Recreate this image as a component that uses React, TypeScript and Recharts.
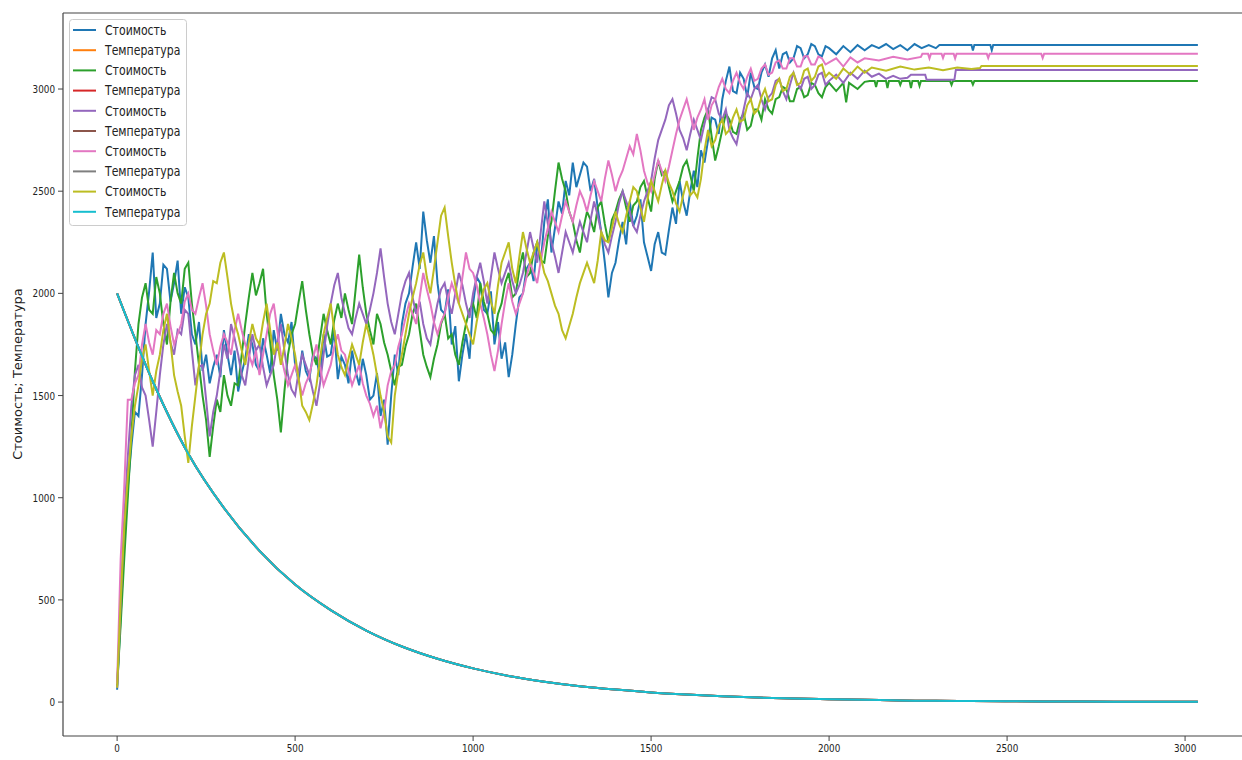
import React from 'react';
import { LineChart, Line, XAxis, YAxis, ReferenceLine } from 'recharts';

// cost samples are taken every STEP iterations up to 2000, then the tail
// (where the search has mostly settled) is listed as [iteration, cost] pairs
const STEP = 10;

const costBlue = [
  60, 420, 780, 1050, 1250, 1420, 1400, 1600, 1850, 2010, 2200, 1880, 1950, 2140, 2120, 1960, 2050, 2160, 1900, 2030,
  1980, 1800, 1750, 1860, 1620, 1700, 1560, 1640, 1700, 1590, 1820, 1700, 1600, 1720, 1520, 1610, 1680, 1800, 1750, 1650,
  1620, 1780, 1700, 1610, 1820, 1720, 1900, 1800, 1760, 1860, 1650, 1570, 1720, 1620, 1580, 1700, 1680, 1590, 1800, 1690,
  1700, 1820, 1580, 1690, 1650, 1560, 1720, 1620, 1550, 1680, 1600, 1480, 1500, 1610, 1400, 1480, 1260, 1500, 1700, 1600,
  1850, 1950, 2000, 2130, 2250, 2120, 2400, 2260, 2150, 2280, 2050, 1920, 1900, 2020, 1750, 1840, 1570, 1700, 1800, 1680,
  1950, 2080, 2050, 1920, 1900, 2010, 1750, 1860, 1680, 1760, 1590, 1700, 1850, 1980, 2000, 2120, 2150, 2060, 2250, 2150,
  2350, 2460, 2200, 2320, 2450, 2390, 2550, 2480, 2640, 2520, 2580, 2640, 2620, 2500, 2560, 2420, 2300, 2150, 1980, 2100,
  2150, 2260, 2350, 2240, 2450, 2330, 2380, 2460, 2250, 2180, 2110, 2240, 2300, 2200, 2190, 2310, 2420, 2340, 2550, 2450,
  2380, 2500, 2600, 2520, 2700, 2640, 2750, 2860, 2850, 2780, 2950, 3040, 3110, 2990, 2980, 3080, 3050, 2960, 3080, 3010,
  3000, 3080, 3120, 3060, 3150, 3190, 3100, 3170, 3180, 3130, 3150, 3210, 3200, 3150, 3170, 3220, 3210, 3170, 3160, 3210,
  3200,
];
const tailBlue: [number, number][] = [
  [2020, 3170], [2040, 3210], [2060, 3180], [2080, 3215], [2100, 3190],
  [2120, 3215], [2140, 3200], [2160, 3220], [2180, 3195], [2200, 3215],
  [2220, 3190], [2240, 3220], [2260, 3200], [2280, 3215], [2300, 3200],
  [2310, 3215], [2400, 3215], [2404, 3188], [2408, 3215], [2453, 3215],
  [2457, 3190], [2461, 3215], [3036, 3215],
];

const costGreen = [
  80, 380, 700, 1000, 1300, 1620, 1850, 1980, 2050, 1920, 1900, 2080, 2000, 1850, 1750, 1960, 2100, 2000, 1950, 2120,
  2150, 1950, 1800, 1650, 1500, 1380, 1200, 1350, 1480, 1420, 1600, 1500, 1450, 1560, 1550, 1700, 1850, 1980, 2100, 1990,
  2050, 2120, 1900, 1760, 1600, 1480, 1320, 1520, 1700, 1800, 1850, 1960, 2060, 1920, 1800, 1700, 1650, 1780, 1900, 1820,
  1750, 1870, 1950, 1880, 2000, 1920, 1850, 2020, 2190, 2030, 1900, 1820, 1750, 1900, 1850, 1760, 1700, 1620, 1550, 1640,
  1650, 1740, 1800, 1900, 1950, 1820, 1700, 1640, 1590, 1680, 1750, 1850, 1900, 1780, 1800, 1700, 1650, 1760, 1850, 1920,
  1950, 1880, 2050, 1960, 1900, 1820, 1800, 1900, 1950, 2050, 2100, 1980, 2000, 2120, 2200, 2080, 2100, 2200, 2250, 2160,
  2150, 2280, 2350, 2500, 2640, 2560, 2500, 2400, 2350, 2260, 2200, 2320, 2400, 2360, 2300, 2420, 2450, 2340, 2250, 2360,
  2400, 2460, 2500, 2420, 2350, 2430, 2450, 2520, 2550, 2470, 2400, 2560, 2650, 2580, 2600, 2520, 2450, 2500, 2550, 2620,
  2650, 2580, 2500, 2660, 2800, 2860, 2900, 2770, 2650, 2720, 2800, 2880, 2850, 2790, 2780, 2850, 2880, 2800, 2820, 2900,
  2900, 2850, 2950, 2900, 2880, 2950, 2960, 3010, 3000, 2940, 2940, 3000, 3010, 2960, 2970, 3030, 3020, 2980, 2960, 3010,
  3030,
];
const tailGreen: [number, number][] = [
  [2020, 2990], [2040, 3030], [2048, 2935], [2056, 3030], [2080, 3000],
  [2100, 3035], [2114, 3039], [2128, 3039], [2132, 3010], [2136, 3039],
  [2160, 3039], [2164, 3005], [2168, 3039], [2196, 3039], [2200, 3020],
  [2204, 3039], [2226, 3039], [2230, 3005], [2234, 3039], [2250, 3039],
  [2254, 3015], [2258, 3039], [2340, 3039], [2344, 3020], [2348, 3039],
  [2400, 3039], [2404, 3022], [2408, 3039], [3036, 3039],
];

const costPurple = [
  70, 480, 900, 1200, 1450, 1600, 1650, 1540, 1500, 1380, 1250, 1420, 1600, 1750, 1850, 1760, 1700, 1820, 1800, 1920,
  1900, 1720, 1550, 1640, 1650, 1480, 1300, 1420, 1500, 1620, 1750, 1680, 1850, 1780, 1700, 1600, 1550, 1680, 1800, 1720,
  1750, 1640, 1550, 1600, 1650, 1760, 1850, 1720, 1600, 1530, 1500, 1620, 1700, 1650, 1600, 1520, 1450, 1560, 1700, 1840,
  1950, 2040, 2100, 1980, 1900, 1830, 1800, 1880, 1950, 1900, 1850, 1920, 2000, 2100, 2220, 2080, 1950, 1860, 1800, 1900,
  2000, 2060, 2100, 1980, 1900, 1960, 1850, 1780, 1750, 1860, 1950, 2020, 2050, 1960, 1900, 2000, 2100, 2040, 1950, 1880,
  2000, 2080, 2150, 2060, 1950, 2080, 2200, 2120, 2050, 2100, 2150, 2060, 2000, 2040, 2100, 2200, 2300, 2220, 2150, 2300,
  2450, 2340, 2250, 2180, 2100, 2200, 2300, 2250, 2200, 2280, 2350, 2300, 2250, 2360, 2450, 2380, 2300, 2240, 2200, 2280,
  2350, 2440, 2500, 2450, 2400, 2330, 2300, 2380, 2450, 2500, 2550, 2660, 2750, 2800, 2850, 2920, 2950, 2880, 2800, 2760,
  2700, 2780, 2850, 2800, 2750, 2830, 2900, 2960, 2950, 2880, 2850, 2900, 2800, 2760, 2730, 2820, 2900, 2980, 2950, 3000,
  3020, 2950, 2900, 2960, 2980, 3040, 3050, 2990, 2950, 3020, 3080, 3030, 3000, 3050, 3060, 3000, 3020, 3070, 3080, 3020,
  3040,
];
const tailPurple: [number, number][] = [
  [2020, 3070], [2040, 3030], [2060, 3080], [2080, 3050], [2100, 3090],
  [2120, 3060], [2140, 3075], [2160, 3050], [2180, 3065], [2200, 3050],
  [2220, 3055], [2230, 3070], [2270, 3070], [2274, 3045], [2352, 3045],
  [2356, 3093], [3036, 3093],
];

const costPink = [
  90, 700, 1050, 1480, 1480, 1560, 1600, 1750, 1850, 1760, 1700, 1820, 1800, 1900, 1950, 1840, 1750, 1800, 1850, 1960,
  2000, 1920, 1900, 1980, 2050, 1940, 1800, 1720, 1650, 1740, 1800, 1760, 1700, 1820, 1900, 1820, 1750, 1700, 1650, 1720,
  1600, 1700, 1800, 1900, 1950, 1820, 1700, 1620, 1550, 1600, 1650, 1580, 1500, 1560, 1600, 1680, 1750, 1640, 1550, 1600,
  1650, 1740, 1800, 1720, 1700, 1620, 1550, 1600, 1650, 1560, 1500, 1460, 1400, 1450, 1340, 1420, 1550, 1620, 1650, 1740,
  1800, 1880, 1950, 1900, 1850, 1980, 2100, 2020, 1950, 1860, 1800, 1860, 1900, 1980, 2050, 2000, 1950, 2080, 2200, 2120,
  2100, 2040, 1950, 1880, 1800, 1700, 1620, 1720, 1850, 1960, 2050, 1960, 1900, 1950, 2000, 2080, 2150, 2100, 2050, 2160,
  2250, 2320, 2400, 2350, 2300, 2380, 2450, 2400, 2350, 2430, 2500, 2460, 2400, 2480, 2550, 2500, 2450, 2560, 2650, 2580,
  2500, 2560, 2600, 2660, 2720, 2680, 2780, 2700, 2600, 2540, 2500, 2580, 2650, 2600, 2550, 2620, 2700, 2780, 2850, 2900,
  2950, 2880, 2800, 2860, 2900, 2950, 2850, 2920, 2950, 3010, 3050, 3000, 2980, 3040, 3080, 3030, 3000, 3060, 3100, 3040,
  3050, 3100, 3120, 3070, 3080, 3130, 3140, 3100, 3100, 3150, 3150, 3110, 3110, 3160, 3160, 3120, 3120, 3160, 3150, 3120,
  3130,
];
const tailPink: [number, number][] = [
  [2020, 3150], [2040, 3110], [2060, 3155], [2080, 3130], [2100, 3150],
  [2140, 3140], [2180, 3158], [2220, 3145], [2258, 3157], [2262, 3172],
  [2278, 3172], [2282, 3150], [2286, 3172], [2316, 3172], [2320, 3152],
  [2324, 3172], [2350, 3172], [2354, 3150], [2358, 3172], [2443, 3172],
  [2447, 3152], [2451, 3172], [2596, 3172], [2600, 3152], [2604, 3172],
  [3036, 3172],
];

const costOlive = [
  70, 500, 850, 1100, 1300, 1450, 1550, 1680, 1750, 1620, 1500, 1620, 1700, 1820, 1900, 1760, 1600, 1520, 1450, 1300,
  1170, 1350, 1500, 1650, 1800, 1900, 1950, 2060, 2050, 2150, 2200, 2080, 1950, 1860, 1800, 1720, 1650, 1760, 1850, 1780,
  1750, 1860, 1950, 1820, 1700, 1760, 1650, 1740, 1850, 1780, 1700, 1580, 1450, 1420, 1380, 1460, 1550, 1680, 1800, 1880,
  1950, 1820, 1700, 1640, 1600, 1680, 1750, 1700, 1650, 1760, 1850, 1780, 1700, 1600, 1500, 1420, 1300, 1270, 1500, 1620,
  1700, 1800, 1900, 1980, 2050, 2140, 2200, 2080, 2000, 2120, 2250, 2380, 2420, 2280, 2150, 2040, 1950, 1900, 1850, 1800,
  1750, 1860, 1950, 2020, 2050, 1960, 1900, 2040, 2150, 2200, 2250, 2120, 2050, 2180, 2300, 2220, 2150, 2200, 2250, 2180,
  2100, 2060, 2000, 1940, 1900, 1820, 1780, 1840, 1900, 1980, 2050, 2100, 2150, 2100, 2050, 2160, 2300, 2260, 2250, 2320,
  2400, 2340, 2300, 2380, 2450, 2520, 2500, 2420, 2350, 2460, 2550, 2500, 2450, 2530, 2600, 2540, 2500, 2440, 2400, 2480,
  2550, 2480, 2500, 2470, 2560, 2700, 2800, 2720, 2750, 2820, 2850, 2780, 2800, 2860, 2900, 2840, 2850, 2920, 2950, 2880,
  2900, 2960, 3000, 2940, 2950, 3020, 3050, 2990, 3000, 3060, 3080, 3020, 3030, 3090, 3100, 3040, 3060, 3110, 3120, 3060,
  3080,
];
const tailOlive: [number, number][] = [
  [2020, 3050], [2040, 3100], [2060, 3070], [2080, 3110], [2100, 3080],
  [2120, 3105], [2160, 3090], [2200, 3110], [2240, 3095], [2280, 3105],
  [2320, 3092], [2360, 3105], [2400, 3098], [2424, 3103], [2428, 3113],
  [3036, 3113],
];

// temperature schedule, same for every run
const tempIter = [0, 100, 200, 300, 400, 500, 600, 700, 800, 900, 1000, 1100, 1200, 1300, 1400, 1500, 1600, 1700, 1800, 1900, 2000, 2100, 2200, 2300, 2400, 2500, 2600, 2800, 3036];
const tempValue = [2000, 1570, 1215, 950, 740, 575, 450, 350, 272, 212, 165, 128, 100, 78, 61, 47, 37, 29, 22, 17, 14, 11, 8, 6, 5, 4, 3, 2, 1];

const xTicks = [0, 500, 1000, 1500, 2000, 2500, 3000];
const yTicks = [0, 500, 1000, 1500, 2000, 2500, 3000];

const COST = 'Стоимость';
const TEMP = 'Температура';

const toRows = (vals: number[], tail: [number, number][]) =>
  vals.map((y, i) => ({ x: i * STEP, y })).concat(tail.map(([x, y]) => ({ x, y })));

const tempRows = tempIter.map((x, i) => ({ x, y: tempValue[i] }));

const series = [
  { name: COST, color: '#1f77b4', data: toRows(costBlue, tailBlue), smooth: false },
  { name: TEMP, color: '#ff7f0e', data: tempRows, smooth: true },
  { name: COST, color: '#2ca02c', data: toRows(costGreen, tailGreen), smooth: false },
  { name: TEMP, color: '#d62728', data: tempRows, smooth: true },
  { name: COST, color: '#9467bd', data: toRows(costPurple, tailPurple), smooth: false },
  { name: TEMP, color: '#8c564b', data: tempRows, smooth: true },
  { name: COST, color: '#e377c2', data: toRows(costPink, tailPink), smooth: false },
  { name: TEMP, color: '#7f7f7f', data: tempRows, smooth: true },
  { name: COST, color: '#bcbd22', data: toRows(costOlive, tailOlive), smooth: false },
  { name: TEMP, color: '#17becf', data: tempRows, smooth: true },
];

const FONT = 'DejaVu Sans';
const AXIS = '#444';

const YTick = (props: any) => {
  const { x, y, payload } = props;
  return (
    <text x={0} y={0} transform={`translate(${x},${y}) scale(0.8,1)`} textAnchor="end" dy="0.36em"
      fontSize={11} fontFamily={FONT} fill="#222">
      {payload.value}
    </text>
  );
};

const XTick = (props: any) => {
  const { x, y, payload } = props;
  return (
    <text x={0} y={0} transform={`translate(${x},${y}) scale(0.8,1)`} textAnchor="middle" dy="0.75em"
      fontSize={11} fontFamily={FONT} fill="#222">
      {payload.value}
    </text>
  );
};

export default function App() {
  return (
    <div style={{ position: 'fixed', left: 0, top: 0, width: 1242, height: 760, overflow: 'hidden', background: '#fff' }}>
      <LineChart width={1262} height={760} margin={{ top: 13, right: 10, bottom: 0, left: 0 }}>
        <XAxis type="number" dataKey="x" domain={[-152, 3188]} ticks={xTicks} allowDataOverflow
          height={24} tickSize={5} tickMargin={3} stroke={AXIS}
          axisLine={{ stroke: AXIS, strokeWidth: 1.2 }} tick={(p: any) => <XTick {...p} />} />
        <YAxis type="number" domain={[-166, 3372]} ticks={yTicks} allowDataOverflow
          width={63} tickSize={5} tickMargin={3} stroke={AXIS}
          axisLine={{ stroke: AXIS, strokeWidth: 1.2 }} tick={(p: any) => <YTick {...p} />} />
        <ReferenceLine y={3372} stroke={AXIS} strokeWidth={1.2} />
        {series.map((s, i) => (
          <Line key={i} data={s.data} dataKey="y" name={s.name} type={s.smooth ? 'monotone' : 'linear'}
            stroke={s.color} strokeWidth={2} dot={false} activeDot={false} isAnimationActive={false} />
        ))}
      </LineChart>
      <svg width={1242} height={760} style={{ position: 'absolute', left: 0, top: 0, pointerEvents: 'none' }}>
        <text transform="translate(17,374) rotate(-90)" textAnchor="middle" dominantBaseline="central"
          fontSize={13} fontFamily={FONT} fill="#222">
          {`${COST}; ${TEMP}`}
        </text>
        <rect x={69.5} y={19.5} width={117} height={206} rx={3} fill="#fff" fillOpacity={0.8} stroke="#ccc" />
        {series.map((s, i) => {
          const cy = 30 + i * 20.2;
          return (
            <g key={i}>
              <line x1={73} x2={96} y1={cy} y2={cy} stroke={s.color} strokeWidth={2} />
              <text x={0} y={0} transform={`translate(105,${cy}) scale(0.82,1)`} dy="0.36em"
                fontSize={13.3} fontFamily={FONT} fill="#222">
                {s.name}
              </text>
            </g>
          );
        })}
      </svg>
    </div>
  );
}
